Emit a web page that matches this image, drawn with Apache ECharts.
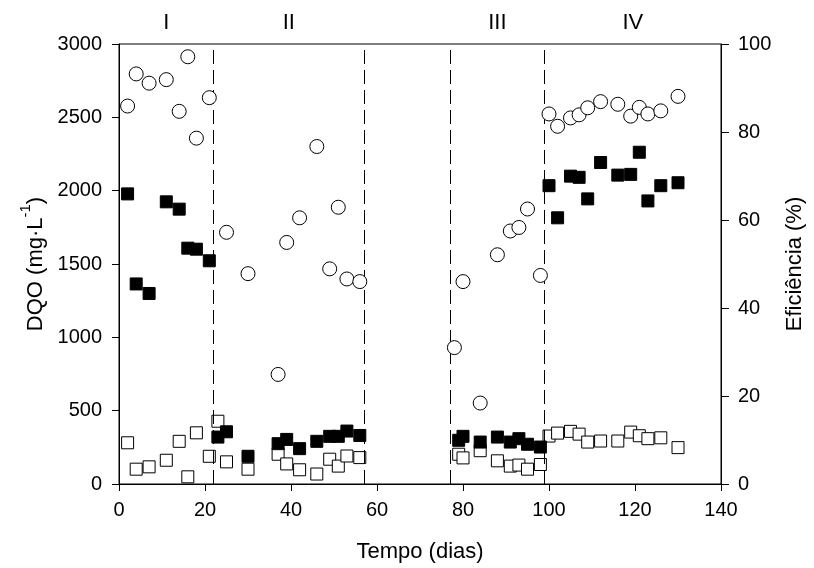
<!DOCTYPE html>
<html>
<head>
<meta charset="utf-8">
<script src="https://cdn.jsdelivr.net/npm/echarts@6/dist/echarts.min.js"></script>
<style>
  html, body { margin: 0; padding: 0; background: #fff; }
  #main { width: 814px; height: 568px; }
</style>
</head>
<body>
<div id="main"></div>
<script>
// DQO afluente (quadrados cheios)
var afluenteDias = [2, 4, 7, 11, 14, 16, 18, 21, 23, 25, 30, 37, 39, 42, 46, 49, 51, 53, 56,
  79, 80, 84, 88, 91, 93, 95, 98, 100, 102, 105, 107, 109, 112, 116, 119, 121, 123, 126, 130];
var afluenteDqo = [1978, 1364, 1299, 1924, 1874, 1608, 1601, 1522, 320, 356, 189, 275, 304, 241, 291, 325, 325, 361, 331,
  298, 325, 286, 320, 286, 309, 271, 252, 2034, 1815, 2099, 2091, 1944, 2192, 2106, 2111, 2262, 1930, 2034, 2054];

// DQO efluente (quadrados vazios)
var efluenteDias = [2, 4, 7, 11, 14, 16, 18, 21, 23, 25, 30, 37, 39, 42, 46, 49, 51, 53, 56,
  79, 80, 84, 88, 91, 93, 95, 98, 100, 102, 105, 107, 109, 112, 116, 119, 121, 123, 126, 130];
var efluenteDqo = [281, 101, 117, 162, 291, 49, 349, 189, 428, 151, 101, 203, 137, 97, 68, 169, 122, 191, 180,
  203, 178, 227, 158, 122, 129, 101, 133, 327, 347, 359, 340, 286, 293, 293, 354, 329, 309, 315, 248];

// eficiencia (circulos)
var eficDias = [2, 4, 7, 11, 14, 16, 18, 21, 25, 30, 37, 39, 42, 46, 49, 51, 53, 56,
  78, 80, 84, 88, 91, 93, 95, 98, 100, 102, 105, 107, 109, 112, 116, 119, 121, 123, 126, 130];
var eficiencia = [85.9, 93.2, 91.1, 91.9, 84.7, 97.1, 78.6, 87.8, 57.2, 47.8, 24.9, 54.9, 60.5, 76.7, 48.9, 62.9, 46.6, 46.0,
  31.0, 46.0, 18.4, 52.1, 57.5, 58.3, 62.5, 47.4, 84.1, 81.3, 83.2, 83.9, 85.5, 86.9, 86.3, 83.6, 85.6, 84.1, 84.8, 88.1];

// fases
var divisoes = [22, 57, 77, 99];
var fases = ['I', 'II', 'III', 'IV'];
var fasesCentro = [11, 39.5, 88, 119.5];

function pares(xs, ys) {
  var out = [];
  for (var i = 0; i < xs.length; i++) {
    out.push([xs[i], ys[i]]);
  }
  return out;
}

var fonte = 'Liberation Sans, Arial, sans-serif';
var myChart = echarts.init(document.getElementById('main'));

myChart.setOption({
  animation: false,
  backgroundColor: '#fff',
  textStyle: { fontFamily: fonte, color: '#000' },
  grid: {
    left: 119,
    right: 93,
    top: 44,
    bottom: 81,
    show: true,
    borderColor: '#000',
    borderWidth: 1,
    containLabel: false
  },
  xAxis: {
    type: 'value',
    min: 0,
    max: 140,
    interval: 20,
    name: 'Tempo (dias)',
    nameLocation: 'middle',
    nameGap: 57,
    nameTextStyle: { fontSize: 22, fontFamily: fonte, color: '#000' },
    axisLine: { lineStyle: { color: '#000', width: 1 } },
    axisTick: { show: true, inside: false, length: 7, lineStyle: { color: '#000' } },
    axisLabel: { fontSize: 20, fontFamily: fonte, color: '#000', margin: 16 },
    splitLine: { show: false }
  },
  yAxis: [{
    type: 'value',
    min: 0,
    max: 3000,
    interval: 500,
    position: 'left',
    name: '{a|DQO (mg·L}{s|-1}{a|)}',
    nameLocation: 'middle',
    nameGap: 68,
    nameTextStyle: {
      fontFamily: fonte,
      color: '#000',
      rich: {
        a: { fontSize: 22, fontFamily: fonte, color: '#000', lineHeight: 28, verticalAlign: 'bottom' },
        s: { fontSize: 15, fontFamily: fonte, color: '#000', lineHeight: 28, verticalAlign: 'top', padding: [0, 0, 9, 0] }
      }
    },
    axisLine: { show: true, lineStyle: { color: '#000', width: 1 } },
    axisTick: { show: true, inside: false, length: 7, lineStyle: { color: '#000' } },
    axisLabel: {
      fontSize: 20, fontFamily: fonte, color: '#000', margin: 17,
      formatter: function (v) { return String(v); }
    },
    splitLine: { show: false }
  }, {
    type: 'value',
    min: 0,
    max: 100,
    interval: 20,
    position: 'right',
    name: 'Eficiência (%)',
    nameLocation: 'middle',
    nameGap: 63,
    nameTextStyle: { fontSize: 22, fontFamily: fonte, color: '#000' },
    axisLine: { show: true, lineStyle: { color: '#000', width: 1 } },
    axisTick: { show: true, inside: false, length: 8, lineStyle: { color: '#000' } },
    axisLabel: { fontSize: 20, fontFamily: fonte, color: '#000', margin: 17 },
    splitLine: { show: false }
  }],
  series: [{
    name: 'fases',
    type: 'scatter',
    data: [],
    z: 1,
    markLine: {
      silent: true,
      symbol: 'none',
      label: { show: false },
      lineStyle: { color: '#000', width: 1, type: [14, 6] },
      data: divisoes.map(function (d) { return { xAxis: d }; })
    }
  }, {
    name: 'Efluente',
    type: 'scatter',
    yAxisIndex: 0,
    symbol: 'rect',
    symbolSize: 12,
    z: 3,
    itemStyle: { color: '#fff', borderColor: '#000', borderWidth: 1, opacity: 1 },
    data: pares(efluenteDias, efluenteDqo)
  }, {
    name: 'Afluente',
    type: 'scatter',
    yAxisIndex: 0,
    symbol: 'rect',
    symbolSize: 12,
    z: 4,
    itemStyle: { color: '#000', borderColor: '#000', borderWidth: 1, opacity: 1 },
    data: pares(afluenteDias, afluenteDqo)
  }, {
    name: 'Eficiência',
    type: 'scatter',
    yAxisIndex: 1,
    symbol: 'circle',
    symbolSize: 14,
    z: 5,
    itemStyle: { color: '#fff', borderColor: '#000', borderWidth: 1, opacity: 1 },
    data: pares(eficDias, eficiencia)
  }]
});

// rotulos das fases no topo
var textos = [];
for (var i = 0; i < fases.length; i++) {
  var px = myChart.convertToPixel({ xAxisIndex: 0 }, fasesCentro[i]);
  textos.push({
    type: 'text',
    x: px,
    y: 23,
    style: {
      text: fases[i],
      fontSize: 22,
      fontFamily: fonte,
      fill: '#000',
      align: 'center',
      verticalAlign: 'middle'
    }
  });
}
myChart.setOption({ graphic: textos });
</script>
</body>
</html>
